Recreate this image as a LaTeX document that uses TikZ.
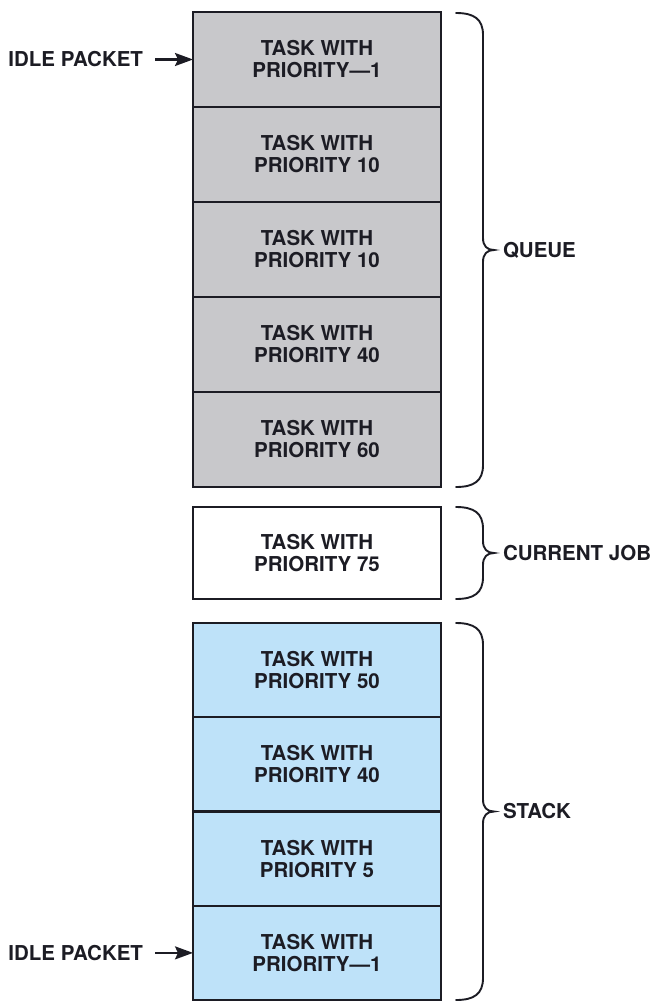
\documentclass[tikz,border=0pt]{standalone}
\usepackage{fontspec}
\setmainfont{TeX Gyre Heros}
\usetikzlibrary{arrows.meta,positioning}
\definecolor{queuegray}{HTML}{C8C8CB}
\definecolor{stackblue}{HTML}{BEE2F9}
\definecolor{inkdark}{HTML}{1C1C24}
\tikzset{
         task/.style={draw=inkdark, line width=2.4pt, outer sep=0pt, inner sep=0pt,
                      minimum width=248pt, minimum height=95pt, align=center,
                      text=inkdark, font=\fontsize{20.5}{22}\selectfont\bfseries},
         qtask/.style={task, fill=queuegray},
         ctask/.style={task, fill=white, minimum height=92pt},
         stask/.style={task, fill=stackblue, minimum height=94.25pt},
         tag/.style={text=inkdark, inner sep=0pt, outer sep=0pt,
                     font=\fontsize{20.5}{22}\selectfont\bfseries},
         pointer/.style={line width=2.2pt, draw=inkdark, shorten <=12pt,
                         -{Stealth[length=18pt,width=13pt,inset=3pt]}},
         bracket/.style={line width=1.9pt, draw=inkdark, line cap=round}
        }
% curly bracket on the right, from top #1 to bottom #2
\newcommand{\curly}[2]{%
 \draw[bracket] (456,#1) .. controls (474,#1) and (483,#1+6) .. (483,#1+22)
   -- (483,{(#1+#2)/2-12}) .. controls (483,{(#1+#2)/2-4}) and (487,{(#1+#2)/2}) .. (494,{(#1+#2)/2})
   .. controls (487,{(#1+#2)/2}) and (483,{(#1+#2)/2+4}) .. (483,{(#1+#2)/2+12})
   -- (483,#2-22) .. controls (483,#2-6) and (474,#2) .. (456,#2);}

\begin{document}
\begin{tikzpicture}[x=1pt,y=-1pt]
\useasboundingbox (0,0) rectangle (651,1003); % page size

%%% Queue

\node[qtask] (q1) at (317,59.5) {TASK WITH\\PRIORITY---1}; % first queue box
\node[qtask, below=0pt of q1] (q2) {TASK WITH\\PRIORITY 10}; % second queue box
\node[qtask, below=0pt of q2] (q3) {TASK WITH\\PRIORITY 10}; % third queue box
\node[qtask, below=0pt of q3] (q4) {TASK WITH\\PRIORITY 40}; % fourth queue box
\node[qtask, below=0pt of q4] (q5) {TASK WITH\\PRIORITY 60}; % fifth queue box
\node[tag, left=50pt of q1] (idle1) {IDLE PACKET}; % top idle packet label
\draw[pointer] (idle1.east) -- (q1.west); % top idle packet arrow
\curly{13}{487} % queue bracket
\node[tag, anchor=west] (queuelab) at (503,250) {QUEUE}; % queue label

%%% Current job

\node[ctask, below=20pt of q5] (cur) {TASK WITH\\PRIORITY 75}; % current box
\curly{507}{599} % current job bracket
\node[tag, anchor=west] (curlab) at (503,553) {CURRENT JOB}; % current job label

%%% Stack

\node[stask, below=24pt of cur] (s1) {TASK WITH\\PRIORITY 50}; % first stack box
\node[stask, below=0pt of s1] (s2) {TASK WITH\\PRIORITY 40}; % second stack box
\node[stask, below=0pt of s2] (s3) {TASK WITH\\PRIORITY 5}; % third stack box
\node[stask, below=0pt of s3] (s4) {TASK WITH\\PRIORITY---1}; % last stack box
\node[tag, left=50pt of s4] (idle2) {IDLE PACKET}; % bottom idle packet label
\draw[pointer] (idle2.east) -- (s4.west); % bottom idle packet arrow
\curly{623}{1000} % stack bracket
\node[tag, anchor=west] (stacklab) at (503,811.5) {STACK}; % stack label
\end{tikzpicture}
\end{document}
